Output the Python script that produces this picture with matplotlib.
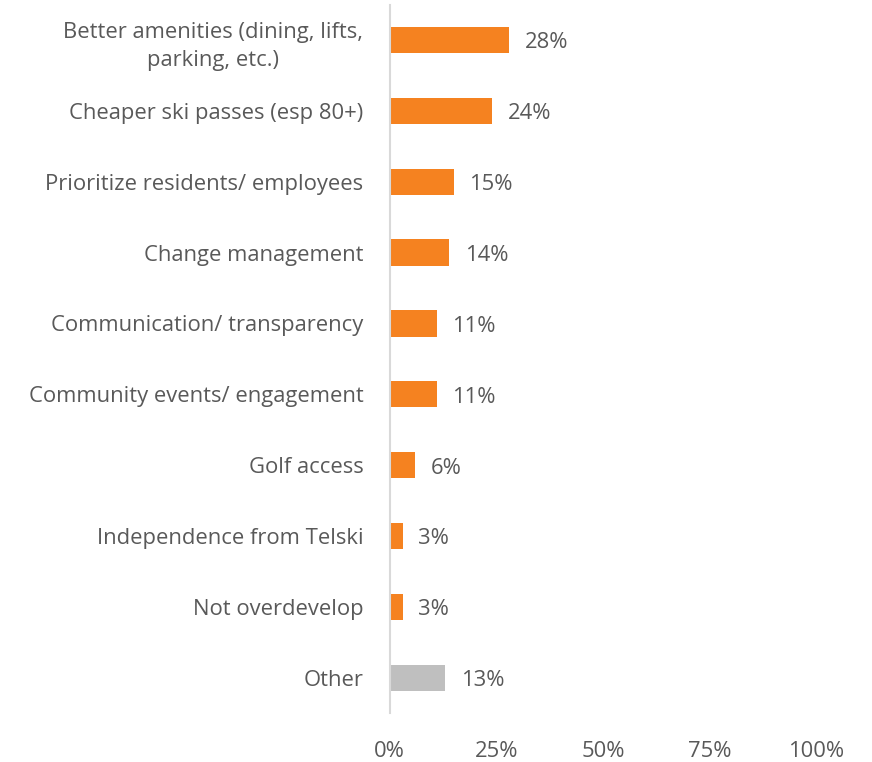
import matplotlib
matplotlib.use("Agg")
import matplotlib.pyplot as plt

categories = [
    "Better amenities (dining, lifts,\nparking, etc.)",
    "Cheaper ski passes (esp 80+)",
    "Prioritize residents/ employees",
    "Change management",
    "Communication/ transparency",
    "Community events/ engagement",
    "Golf access",
    "Independence from Telski",
    "Not overdevelop",
    "Other",
]
values = [28, 24, 15, 14, 11, 11, 6, 3, 3, 13]
colors = ["#F58220"] * 9 + ["#BFBFBF"]
xticks = [0, 25, 50, 75, 100]

plt.rcParams['font.family'] = ['Open Sans', 'DejaVu Sans']
text_color = "#595959"
fs = 15.8

fig = plt.figure(figsize=(8.72, 7.62), dpi=100)
ax = fig.add_axes([0.447, 0.064, 0.489, 0.93])

y = list(range(len(categories)))
ax.barh(y, values, height=0.37, color=colors, zorder=2)
for yi, v in zip(y, values):
    ax.text(v + 3.6, yi + 0.04, f"{v}%", va="center", ha="left", fontsize=fs, color=text_color)

ax.set_ylim(len(categories) - 0.5, -0.5)
ax.set_xlim(0, 100)
ax.set_yticks(y)
ax.set_yticklabels(categories, fontsize=fs, color=text_color, ha="right",
                   multialignment="center", linespacing=1.45)
ax.set_xticks(xticks)
ax.set_xticklabels([f"{t}%" for t in xticks], fontsize=fs, color=text_color)
ax.tick_params(axis="both", length=0)
ax.tick_params(axis="y", pad=19)
ax.tick_params(axis="x", pad=20)
for s in ["top", "right", "bottom"]:
    ax.spines[s].set_visible(False)
ax.spines["left"].set_color("#D9D9D9")
ax.spines["left"].set_linewidth(1.5)

fig.savefig("out.png", dpi=100)
